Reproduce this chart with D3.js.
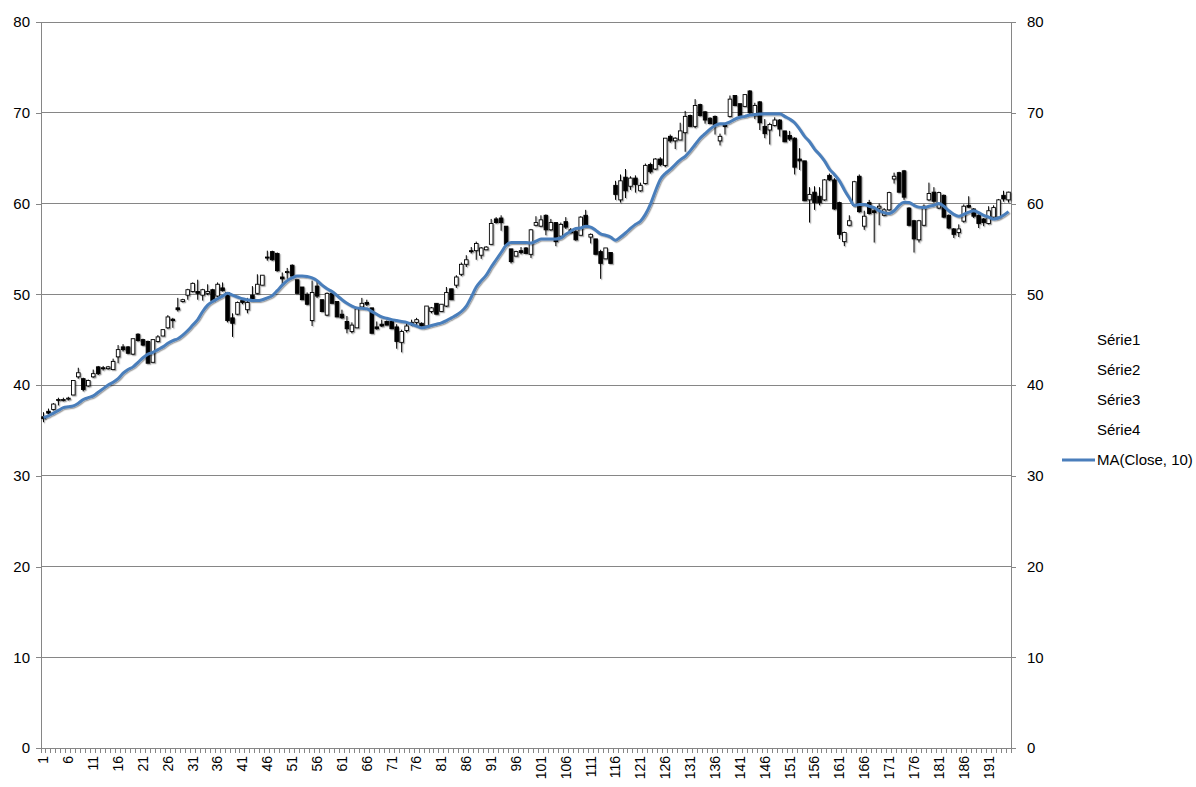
<!DOCTYPE html>
<html>
<head>
<meta charset="utf-8">
<script src="https://cdn.jsdelivr.net/npm/d3@7"></script>
<style>
  body { margin: 0; background: #fff; }
  text { font-family: "Liberation Sans", Arial, sans-serif; fill: #000; }
</style>
</head>
<body>
<div id="chart"></div>
<script>
// values, one entry per session (1..195)
const open = [36.5,37.1,37.3,38.3,38.3,38.5,38.9,40.9,40.7,39.9,40.9,42.0,41.9,41.8,41.7,43.1,44.2,44.2,43.4,45.6,
  45.0,44.8,42.5,44.8,45.4,46.3,47.25,48.5,49.2,49.9,50.3,50.3,49.9,50.1,50.5,49.8,50.7,50.2,47.4,47.8,
  49.3,48.3,49.9,50.1,51.0,54.1,54.7,54.5,51.9,52.4,53.2,51.6,50.8,50.0,47.1,50.9,49.4,47.7,50.1,49.2,
  47.8,47.0,45.9,46.3,48.6,49.1,48.5,46.4,46.7,47.0,47.0,46.4,44.7,46.0,46.8,46.9,46.8,46.5,48.1,49.0,
  48.1,48.7,50.6,51.0,52.2,53.3,54.8,54.8,54.3,54.9,55.5,58.3,58.4,57.5,55.0,54.2,54.8,55.1,54.4,57.6,
  57.5,58.7,57.1,57.9,56.4,58.0,57.1,56.9,56.5,58.7,56.3,56.1,54.7,53.9,54.6,62.0,60.4,62.9,61.9,62.8,
  61.4,62.2,64.3,63.8,64.9,64.2,67.4,66.9,67.0,67.8,69.7,68.5,70.9,70.1,69.4,69.6,66.9,68.6,69.6,71.9,
  71.0,70.7,72.4,69.7,71.2,68.5,68.1,68.6,69.2,68.0,67.5,67.2,64.9,64.7,60.4,61.25,60.8,60.4,63.1,62.6,
  60.1,55.8,57.6,59.8,63.0,57.5,60.1,59.2,59.5,58.7,59.3,62.7,63.4,63.6,59.5,58.1,56.0,57.6,60.4,61.25,
  59.5,60.9,58.7,57.2,56.8,58.05,59.8,59.4,58.7,58.3,57.8,58.5,58.5,60.9,60.4];
const high = [37.0,37.4,38.0,38.6,38.6,38.7,40.5,41.9,40.8,40.6,41.7,42.1,42.1,42.1,42.9,44.4,44.5,44.3,45.1,45.7,
  45.1,44.9,45.0,45.5,46.1,47.7,47.4,49.6,49.5,50.6,51.3,51.6,50.6,51.1,50.6,51.3,51.3,50.2,47.9,49.2,
  49.5,49.6,50.9,52.2,52.1,54.8,54.8,54.6,52.4,52.9,53.3,51.6,50.8,50.2,51.5,51.5,49.4,50.2,50.1,49.2,
  48.3,47.6,46.9,48.4,49.6,49.4,48.5,47.0,47.2,47.1,47.0,46.7,46.1,46.9,47.2,47.4,46.9,48.7,48.6,49.0,
  48.9,50.8,50.6,52.1,53.5,54.3,55.2,55.8,55.2,55.3,58.3,58.5,58.7,57.5,55.0,54.8,55.2,55.2,57.2,58.6,
  58.7,58.8,58.3,57.9,57.9,58.5,57.3,57.1,58.6,59.3,56.7,56.1,54.9,55.1,54.6,62.5,63.2,63.8,63.0,63.1,
  62.3,64.4,64.5,65.0,65.1,67.2,67.6,67.3,68.9,70.2,69.8,71.5,71.0,70.2,69.5,69.7,67.7,68.7,71.9,71.9,
  71.0,72.0,72.5,71.1,71.3,69.3,68.9,69.5,69.3,68.0,68.0,67.3,66.1,64.7,61.8,61.9,61.8,62.7,63.3,62.8,
  60.2,56.9,58.7,62.5,63.2,59.2,60.4,59.5,60.0,59.5,61.3,63.4,63.5,63.7,59.6,58.2,58.2,59.9,62.3,61.8,
  61.3,61.0,58.8,57.3,57.7,59.9,60.8,59.5,58.8,58.4,59.7,59.8,60.5,61.4,61.3];
const low = [35.9,36.8,37.2,37.75,38.2,38.3,38.9,40.7,39.3,39.8,40.8,41.1,41.6,41.7,41.7,42.4,43.7,43.4,43.3,44.8,
  44.3,42.4,42.5,44.7,45.4,46.2,46.3,48.1,49.1,49.4,50.2,49.4,49.3,49.9,49.3,49.7,50.3,46.9,45.3,47.7,
  48.9,47.9,49.3,50.0,51.0,53.7,53.7,52.5,51.1,51.7,51.9,50.1,49.4,48.8,46.5,49.6,48.1,47.6,49.0,47.5,
  47.3,45.7,45.7,46.3,48.5,48.7,45.7,46.1,46.4,46.6,46.2,44.0,43.6,45.8,46.5,46.6,46.4,46.4,47.9,47.8,
  48.1,48.6,49.4,50.7,52.0,53.0,54.5,53.8,53.9,54.9,55.5,57.8,57.0,55.5,53.4,54.2,54.4,54.5,54.0,57.5,
  57.4,56.5,57.0,55.3,56.3,57.2,56.7,55.9,56.5,57.4,55.6,54.4,51.7,53.9,53.4,60.4,60.1,60.6,61.5,61.2,
  61.3,62.1,63.3,63.7,64.1,64.0,66.7,66.0,67.0,65.7,68.5,68.3,69.6,68.8,68.8,67.6,66.4,67.6,69.5,70.8,
  69.7,70.7,69.8,69.3,68.1,67.2,66.5,68.5,67.4,66.8,66.9,63.2,63.7,60.3,57.9,59.3,59.8,60.3,62.5,59.3,
  56.1,55.3,57.5,59.7,59.0,57.1,58.8,55.7,57.6,58.6,59.2,62.2,61.2,60.4,57.5,54.6,55.7,57.5,60.3,60.1,
  59.4,58.4,57.2,56.2,56.3,57.9,59.5,58.4,57.3,57.5,57.7,58.3,58.4,60.2,60.1];
const close = [36.3,36.9,37.9,38.4,38.4,38.55,40.5,41.35,39.5,40.5,41.25,41.25,41.8,42.0,42.6,43.9,43.9,43.5,45.1,44.9,
  44.4,42.4,45.0,45.3,46.1,47.5,47.1,48.3,49.4,50.5,51.2,50.1,50.5,50.3,49.3,51.1,50.4,47.1,46.8,49.1,
  49.1,49.1,49.4,51.1,52.1,54.0,53.8,52.6,51.7,52.5,52.0,50.1,49.4,48.9,50.2,49.8,48.1,50.1,49.0,47.5,
  47.4,46.2,46.6,48.4,49.0,48.9,45.7,46.2,46.5,46.6,46.2,44.8,45.9,46.5,46.9,47.2,46.5,48.7,48.5,47.8,
  48.9,50.2,49.4,51.9,53.3,53.8,54.7,55.6,55.1,55.2,57.8,57.9,57.9,55.5,53.6,54.7,54.6,54.5,57.1,57.9,
  58.2,57.1,57.9,55.8,57.7,57.4,56.8,56.0,58.5,57.5,56.6,54.4,53.4,55.1,53.4,61.0,62.5,61.4,62.8,62.1,
  62.0,64.2,63.5,64.9,64.3,67.2,66.9,67.2,68.0,69.6,68.5,70.8,69.7,69.2,68.8,68.7,67.4,68.5,71.5,70.8,
  69.7,72.0,70.0,70.8,68.9,67.7,68.7,69.2,68.2,66.8,67.1,64.0,64.7,60.3,61.0,60.1,60.1,62.6,62.6,59.4,
  56.6,56.8,58.1,62.4,59.1,58.6,58.9,59.0,59.7,59.3,61.2,63.0,61.25,60.7,57.6,56.1,58.1,59.7,61.1,60.25,
  61.2,58.5,57.3,56.6,57.2,59.7,59.6,58.6,57.8,57.9,59.2,59.55,60.4,60.5,61.25];
// MA(Close, 10) as drawn
const ma = [36.4,36.6,36.9,37.2,37.5,37.6,37.7,38.0,38.4,38.6,38.8,39.2,39.6,40.0,40.3,40.7,41.3,41.7,42.0,42.5,
  43.0,43.4,43.6,43.9,44.2,44.6,44.9,45.1,45.5,46.0,46.6,47.2,48.1,48.8,49.2,49.5,49.8,50.1,49.9,49.7,
  49.5,49.4,49.3,49.3,49.4,49.6,49.85,50.4,51.0,51.5,51.8,52.0,52.0,51.95,51.8,51.5,51.0,50.6,50.3,49.85,
  49.4,49.0,48.7,48.5,48.45,48.4,48.1,47.8,47.5,47.35,47.2,47.1,47.0,46.9,46.7,46.5,46.3,46.4,46.55,46.7,
  46.85,47.1,47.4,47.7,48.1,48.7,49.7,50.8,51.5,52.1,53.0,53.8,54.6,55.4,55.7,55.7,55.7,55.7,55.65,55.85,
  56.1,56.1,56.1,56.1,56.2,56.6,56.95,57.25,57.3,57.5,57.4,57.05,56.65,56.5,56.3,55.95,56.3,56.75,57.25,57.7,
  58.05,58.8,59.9,61.35,62.65,63.3,63.75,64.3,64.8,65.2,65.8,66.5,67.2,67.7,68.2,68.6,68.8,68.8,69.0,69.3,
  69.5,69.6,69.75,69.8,69.85,69.9,69.9,69.9,69.9,69.6,69.3,68.9,68.2,67.4,66.8,66.0,65.4,64.7,63.8,63.2,
  62.5,61.5,60.6,59.8,59.9,59.9,59.7,59.55,59.2,59.0,58.9,59.2,59.8,60.15,60.1,59.8,59.6,59.55,59.7,59.8,
  60.0,59.7,59.2,58.8,58.6,58.8,59.05,59.2,59.0,58.7,58.5,58.3,58.4,58.7,59.1];

const xTickLabels = [1,6,11,16,21,26,31,36,41,46,51,56,61,66,71,76,81,86,91,96,
  101,106,111,116,121,126,131,136,141,146,151,156,161,166,171,176,181,186,191];
const yTicks = [0,10,20,30,40,50,60,70,80];
const legendNames = ['Série1','Série2','Série3','Série4','MA(Close, 10)'];

const categories = close.map((d, i) => i + 1);
const data = categories.map((c, i) => ({cat: c, o: open[i], h: high[i], l: low[i], c: close[i]}));

const W = 1196, H = 787;
const plot = {left: 41, right: 1011, top: 22, bottom: 748};

const svg = d3.select('#chart')
  .append('svg')
  .attr('width', W)
  .attr('height', H);

const defs = svg.append('defs');
const shadow = defs.append('filter').attr('id', 'shadow')
  .attr('x', '-50%').attr('y', '-10%').attr('width', '200%').attr('height', '120%');
shadow.append('feDropShadow')
  .attr('dx', 1.2).attr('dy', 1.2).attr('stdDeviation', 0.6)
  .attr('flood-color', '#000').attr('flood-opacity', 0.35);

const x = d3.scaleBand()
  .domain(categories)
  .range([plot.left, plot.right]);

const y = d3.scaleLinear()
  .domain([0, 80])
  .range([plot.bottom, plot.top]);

// gridlines
svg.append('g')
  .selectAll('line')
  .data(yTicks.filter(d => d > 0))
  .enter().append('line')
  .attr('x1', plot.left).attr('x2', plot.right)
  .attr('y1', d => y(d)).attr('y2', d => y(d))
  .attr('stroke', '#868686')
  .attr('stroke-width', 1)
  .attr('shape-rendering', 'crispEdges');

// left axis
const yAxisL = d3.axisLeft(y).tickValues(yTicks).tickSize(5).tickSizeOuter(0).tickPadding(6);
const gl = svg.append('g')
  .attr('transform', 'translate(' + plot.left + ',0)')
  .call(yAxisL);

// right axis
const yAxisR = d3.axisRight(y).tickValues(yTicks).tickSize(5).tickSizeOuter(0).tickPadding(11);
const gr = svg.append('g')
  .attr('transform', 'translate(' + plot.right + ',0)')
  .call(yAxisR);

[gl, gr].forEach(g => {
  g.select('.domain').attr('stroke', '#868686').attr('shape-rendering', 'crispEdges');
  g.selectAll('.tick line').attr('stroke', '#868686').attr('shape-rendering', 'crispEdges');
  g.selectAll('.tick text').style('font-size', '15px').attr('font-family', null);
});

// category axis
svg.append('line')
  .attr('x1', plot.left).attr('x2', plot.right + 5)
  .attr('y1', plot.bottom).attr('y2', plot.bottom)
  .attr('stroke', '#868686')
  .attr('shape-rendering', 'crispEdges');

svg.append('g')
  .selectAll('line')
  .data(categories.concat([categories.length + 1]))
  .enter().append('line')
  .attr('x1', d => d <= categories.length ? x(d) : plot.right)
  .attr('x2', d => d <= categories.length ? x(d) : plot.right)
  .attr('y1', plot.bottom).attr('y2', plot.bottom + 5)
  .attr('stroke', '#868686')
  .attr('shape-rendering', 'crispEdges');

svg.append('g')
  .selectAll('text')
  .data(xTickLabels)
  .enter().append('text')
  .attr('transform', d => 'translate(' + (x(d) + x.bandwidth() / 2) + ',' + (plot.bottom + 8) + ') rotate(-90)')
  .attr('dy', '0.35em')
  .style('text-anchor', 'end')
  .style('font-size', '14px')
  .text(d => d);

// candles
const bodyW = x.bandwidth() * 0.72;
const candles = svg.append('g').attr('filter', 'url(#shadow)');

const candle = candles.selectAll('.candle')
  .data(data)
  .enter().append('g')
  .attr('class', 'candle');

candle.append('line')
  .attr('x1', d => x(d.cat) + x.bandwidth() / 2)
  .attr('x2', d => x(d.cat) + x.bandwidth() / 2)
  .attr('y1', d => y(d.h))
  .attr('y2', d => y(d.l))
  .attr('stroke', '#000')
  .attr('stroke-width', 1);

candle.append('rect')
  .attr('x', d => x(d.cat) + (x.bandwidth() - bodyW) / 2)
  .attr('y', d => y(Math.max(d.o, d.c)))
  .attr('width', bodyW)
  .attr('height', d => Math.max(1, y(Math.min(d.o, d.c)) - y(Math.max(d.o, d.c))))
  .attr('fill', d => d.c >= d.o ? '#fff' : '#000')
  .attr('stroke', '#000')
  .attr('stroke-width', 0.9);

// moving average
const line = d3.line()
  .x((d, i) => x(categories[i]) + x.bandwidth() / 2)
  .y(d => y(d))
  .curve(d3.curveMonotoneX);

svg.append('path')
  .datum(ma)
  .attr('d', line)
  .attr('fill', 'none')
  .attr('stroke', '#4a7ebb')
  .attr('stroke-width', 3)
  .attr('stroke-linejoin', 'round')
  .attr('filter', 'url(#shadow)');

// legend
const legend = svg.append('g')
  .attr('transform', 'translate(1097,340)');

const item = legend.selectAll('g')
  .data(legendNames)
  .enter().append('g')
  .attr('transform', (d, i) => 'translate(0,' + i * 30 + ')');

item.append('text')
  .attr('dy', '0.35em')
  .style('font-size', '15px')
  .text(d => d);

item.filter(d => d.startsWith('MA'))
  .append('line')
  .attr('x1', -35).attr('x2', -2)
  .attr('y1', 0).attr('y2', 0)
  .attr('stroke', '#4a7ebb')
  .attr('stroke-width', 3);
</script>
</body>
</html>
